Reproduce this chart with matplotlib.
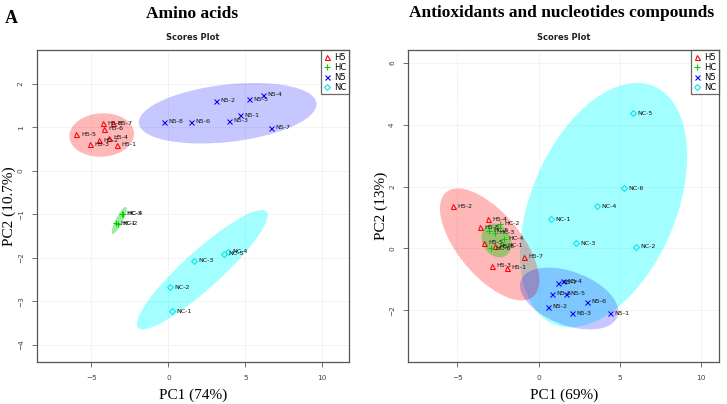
import numpy as np
import matplotlib
matplotlib.use("Agg")
import matplotlib.pyplot as plt
from matplotlib.patches import Ellipse
from matplotlib.lines import Line2D

# ---------------- data: left panel (Amino acids) ----------------
A_H5_names = ["H5-5", "H5-8", "H5-7", "H5-6", "H5-2", "H5-4", "H5-3", "H5-1"]
A_H5_x = [-5.97, -4.24, -3.57, -4.18, -4.48, -3.83, -5.08, -3.35]
A_H5_y = [0.84, 1.09, 1.09, 0.97, 0.70, 0.76, 0.61, 0.60]

A_HC_names = ["HC-3", "HC-4", "HC-1", "HC-2"]
A_HC_x = [-3.00, -2.97, -3.42, -3.25]
A_HC_y = [-0.99, -0.99, -1.21, -1.22]

A_N5_names = ["N5-8", "N5-6", "N5-2", "N5-5", "N5-4", "N5-1", "N5-3", "N5-7"]
A_N5_x = [-0.28, 1.49, 3.08, 5.26, 6.15, 4.63, 3.96, 6.67]
A_N5_y = [1.13, 1.13, 1.61, 1.64, 1.74, 1.28, 1.15, 0.99]

A_NC_names = ["NC-1", "NC-2", "NC-3", "NC-4", "NC-5"]
A_NC_x = [0.24, 0.11, 1.67, 3.86, 3.60]
A_NC_y = [-3.23, -2.68, -2.07, -1.86, -1.90]

# ellipse parameters: centre x, centre y, sd x, sd y, correlation  (order H5, HC, N5, NC)
A_ell_cx = [-4.33, -3.19, 3.85, 2.20]
A_ell_cy = [0.82, -1.14, 1.32, -2.27]
A_ell_sx = [2.10, 0.49, 5.77, 4.25]
A_ell_sy = [0.50, 0.31, 0.695, 1.37]
A_ell_r = [0.05, 0.85, 0.30, 0.91]

# ---------------- data: right panel (Antioxidants and nucleotides) ----------------
B_H5_names = ["H5-2", "H5-4", "H5-8", "H5-5", "H5-6", "H5-7", "H5-3", "H5-1"]
B_H5_x = [-5.26, -3.10, -3.62, -3.37, -2.69, -0.89, -2.88, -1.97]
B_H5_y = [1.37, 0.94, 0.69, 0.18, 0.07, -0.27, -0.56, -0.63]

B_HC_names = ["HC-2", "HC-5", "HC-3", "HC-4", "HC-1", "HC-6"]
B_HC_x = [-2.38, -3.04, -2.67, -2.12, -2.22, -2.96]
B_HC_y = [0.79, 0.57, 0.50, 0.32, 0.11, 0.00]

B_N5_names = ["N5-4", "N5-7", "N5-8", "N5-5", "N5-6", "N5-2", "N5-3", "N5-1"]
B_N5_x = [1.52, 1.21, 0.80, 1.66, 2.96, 0.59, 2.03, 4.39]
B_N5_y = [-1.06, -1.11, -1.46, -1.46, -1.72, -1.89, -2.10, -2.10]

B_NC_names = ["NC-5", "NC-6", "NC-4", "NC-1", "NC-3", "NC-2"]
B_NC_x = [5.83, 5.24, 3.59, 0.78, 2.32, 6.01]
B_NC_y = [4.37, 1.94, 1.36, 0.94, 0.16, 0.06]

B_ell_cx = [-3.02, -2.59, 1.88, 4.00]
B_ell_cy = [0.13, 0.26, -1.62, 1.40]
B_ell_sx = [3.06, 0.93, 3.03, 5.15]
B_ell_sy = [1.81, 0.55, 1.00, 3.95]
B_ell_r = [-0.64, -0.20, -0.42, 0.40]

groups = ["H5", "HC", "N5", "NC"]
colors = ["#FF0000", "#00CD00", "#0000FF", "#00E5EE"]
fill_colors = ["#FF0000", "#00CD00", "#0000FF", "#00FFFF"]
fill_alpha = [0.28, 0.38, 0.22, 0.36]
markers = ["^", "+", "x", "D"]
msizes = [3.6, 5.0, 3.6, 3.0]

titles = ["Amino acids", "Antioxidants and nucleotides compounds"]
xlabels = ["PC1 (74%)", "PC1 (69%)"]
ylabels = ["PC2 (10.7%)", "PC2 (13%)"]
xlims = [(-8.53, 11.73), (-8.03, 11.11)]
ylims = [(-4.39, 2.77), (-3.67, 6.41)]
xticks = [[-5, 0, 5, 10], [-5, 0, 5, 10]]
yticks = [[-4, -3, -2, -1, 0, 1, 2], [-2, 0, 2, 4, 6]]

panels = [
    dict(pts=[(A_H5_names, A_H5_x, A_H5_y), (A_HC_names, A_HC_x, A_HC_y),
              (A_N5_names, A_N5_x, A_N5_y), (A_NC_names, A_NC_x, A_NC_y)],
         ell=(A_ell_cx, A_ell_cy, A_ell_sx, A_ell_sy, A_ell_r),
         order=[0, 1, 2, 3]),
    dict(pts=[(B_H5_names, B_H5_x, B_H5_y), (B_HC_names, B_HC_x, B_HC_y),
              (B_N5_names, B_N5_x, B_N5_y), (B_NC_names, B_NC_x, B_NC_y)],
         ell=(B_ell_cx, B_ell_cy, B_ell_sx, B_ell_sy, B_ell_r),
         order=[3, 0, 1, 2]),
]

fig = plt.figure(figsize=(7.27, 4.04), dpi=100)
ax_rects = [[0.0509, 0.104, 0.4292, 0.772], [0.5616, 0.104, 0.4274, 0.772]]
serif = ["Liberation Serif", "DejaVu Serif"]

def cov_ellipse(cx, cy, sx, sy, r, color, alpha, ax):
    cov = np.array([[sx * sx, r * sx * sy], [r * sx * sy, sy * sy]])
    vals, vecs = np.linalg.eigh(cov)
    order = vals.argsort()[::-1]
    vals, vecs = vals[order], vecs[:, order]
    ang = np.degrees(np.arctan2(vecs[1, 0], vecs[0, 0]))
    e = Ellipse((cx, cy), 2 * np.sqrt(vals[0]), 2 * np.sqrt(vals[1]), angle=ang,
                facecolor=color, alpha=alpha, edgecolor="none", zorder=1)
    ax.add_patch(e)

for i, p in enumerate(panels):
    ax = fig.add_axes(ax_rects[i])
    ax.set_xlim(*xlims[i])
    ax.set_ylim(*ylims[i])
    cx, cy, sx, sy, rr = p["ell"]
    for g in p["order"]:
        cov_ellipse(cx[g], cy[g], sx[g], sy[g], rr[g], fill_colors[g], fill_alpha[g], ax)
    for g, (names, xs, ys) in enumerate(p["pts"]):
        ax.plot(xs, ys, linestyle="none", marker=markers[g], ms=msizes[g],
                mfc="none", mec=colors[g], mew=0.75, zorder=3)
        for n, x, y in zip(names, xs, ys):
            ax.annotate(n, (x, y), xytext=(3.2, 0), textcoords="offset points",
                        fontsize=4.6, va="center", ha="left", color="#111111", zorder=4)
    ax.set_xticks(xticks[i])
    ax.set_yticks(yticks[i])
    ax.grid(True, color="#DDDDDD", linestyle=(0, (1, 1.5)), linewidth=0.6)
    ax.set_axisbelow(True)
    for s in ax.spines.values():
        s.set_color("#555555")
        s.set_linewidth(0.9)
    ax.tick_params(axis="both", length=3.5, width=0.6, color="#555555",
                   labelsize=5.3, labelcolor="#444444", pad=6)
    for lab in ax.get_yticklabels():
        lab.set_rotation(90)
        lab.set_va("center")
    ax.set_xlabel(xlabels[i], fontsize=11, family=serif, labelpad=5)
    ax.set_ylabel(ylabels[i], fontsize=11, family=serif, labelpad=1)
    ax.set_title("Scores Plot", fontsize=6, fontweight="bold", pad=7, color="#222222")
    handles = [Line2D([], [], linestyle="none", marker=markers[g], ms=msizes[g],
                      mfc="none", mec=colors[g], mew=0.8, label=groups[g]) for g in range(4)]
    leg = ax.legend(handles=handles, loc="upper right", fontsize=6, borderaxespad=0,
                    frameon=True, fancybox=False, handlelength=0.8, handletextpad=0.4,
                    borderpad=0.35, labelspacing=0.1)
    leg.get_frame().set_edgecolor("#444444")
    leg.get_frame().set_linewidth(0.9)

fig.text(0.264, 0.965, titles[0], ha="center", va="center", fontsize=12.5,
         fontweight="bold", family=serif)
fig.text(0.772, 0.967, titles[1], ha="center", va="center", fontsize=12.5,
         fontweight="bold", family=serif)
fig.text(0.007, 0.955, "A", ha="left", va="center", fontsize=13,
         fontweight="bold", family=serif)

fig.savefig("out.png", dpi=100)
